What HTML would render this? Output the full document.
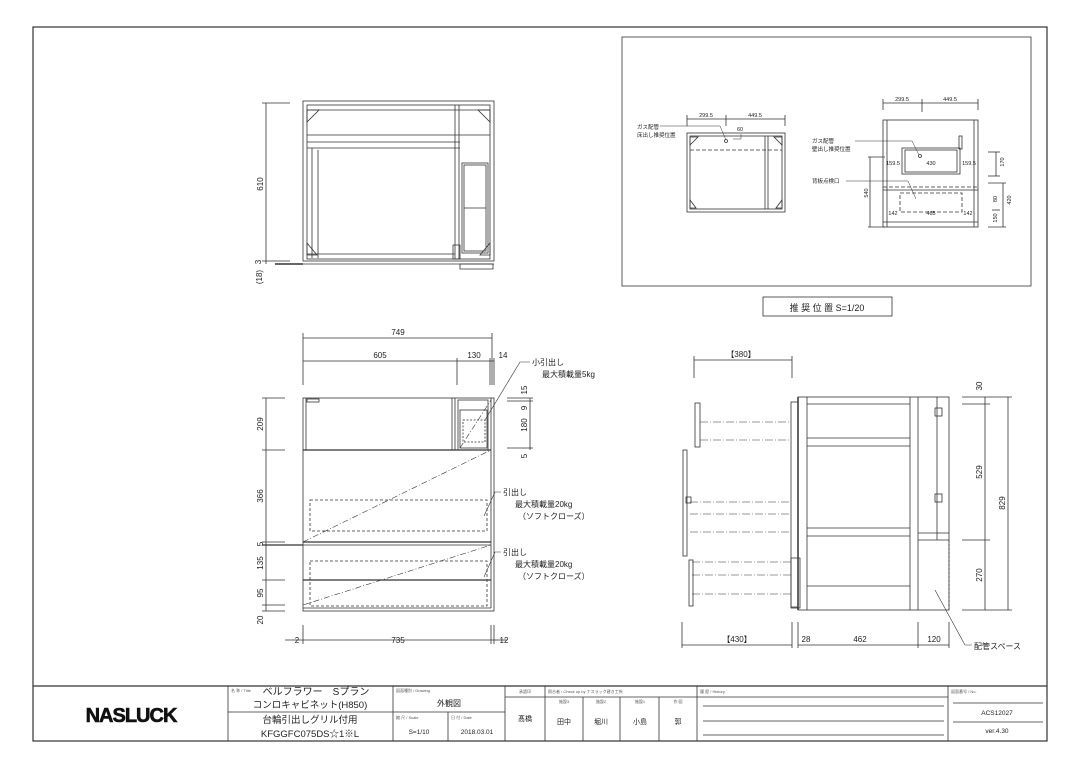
<!DOCTYPE html>
<html><head><meta charset="utf-8"><style>
html,body{margin:0;padding:0;background:#fff}
svg{display:block}
text{font-family:"Liberation Sans","Noto Sans CJK JP",sans-serif;fill:#222}
.d{font-size:8px}
.s{font-size:4px;fill:#555}
</style></head><body>
<svg width="1080" height="764" viewBox="0 0 1080 764" xmlns="http://www.w3.org/2000/svg">
<g fill="none" stroke="#333" stroke-width="0.8">
<rect x="33" y="27" width="1014" height="714" stroke-width="1.2"/>
<!-- title block -->
<line x1="33" y1="686" x2="1047" y2="686" stroke-width="1.2"/>
<line x1="228" y1="686" x2="228" y2="741"/><line x1="393" y1="686" x2="393" y2="741"/>
<line x1="505" y1="686" x2="505" y2="741"/><line x1="545" y1="686" x2="545" y2="741"/>
<line x1="697" y1="686" x2="697" y2="741"/><line x1="948" y1="686" x2="948" y2="741"/>
<line x1="228" y1="712" x2="393" y2="712"/>
<line x1="393" y1="712" x2="505" y2="712"/><line x1="448" y1="712" x2="448" y2="741"/>
<line x1="505" y1="697" x2="697" y2="697"/>
<line x1="583" y1="697" x2="583" y2="741"/><line x1="620" y1="697" x2="620" y2="741"/><line x1="659" y1="697" x2="659" y2="741"/>
<line x1="697" y1="697" x2="948" y2="697"/>
<line x1="703" y1="706" x2="944" y2="706"/><line x1="703" y1="721" x2="944" y2="721"/><line x1="703" y1="735" x2="944" y2="735"/>
<line x1="953" y1="703" x2="1043" y2="703"/><line x1="953" y1="722" x2="1043" y2="722"/>

<!-- top plan view -->
<rect x="303" y="101" width="191" height="160"/>
<rect x="307" y="105" width="183" height="154"/>
<line x1="307" y1="110" x2="490" y2="110"/>
<line x1="307" y1="135" x2="490" y2="135"/><line x1="307" y1="142" x2="460" y2="142"/>
<line x1="307" y1="148" x2="460" y2="148"/>
<line x1="312" y1="148" x2="312" y2="258"/><line x1="318" y1="150" x2="318" y2="258"/>
<line x1="455" y1="105" x2="455" y2="259"/><line x1="459" y1="105" x2="459" y2="259"/>
<line x1="307" y1="254" x2="455" y2="254"/>
<rect x="462" y="163" width="26" height="90"/><rect x="464" y="165" width="22" height="86"/>
<line x1="464" y1="208" x2="486" y2="208"/>
<rect x="453" y="245" width="7" height="14"/>
<path d="M307 110l12 0-12 12z M490 110l-12 0 12 12z M307 255l10 0-10-12z M490 255l-10 0 10-12z"/>
<line x1="303" y1="264" x2="494" y2="264"/>
<path d="M460 264h33v5h-33z"/>
<line x1="266" y1="103" x2="266" y2="264"/><line x1="262" y1="103" x2="290" y2="103"/><line x1="262" y1="261" x2="290" y2="261"/>
<line x1="275" y1="264" x2="303" y2="264" stroke-width="1.5"/>

<!-- front view -->
<rect x="303" y="398" width="191" height="213"/>
<line x1="303" y1="450" x2="491" y2="450" stroke-width="1.2"/>
<line x1="303" y1="542" x2="491" y2="542" stroke-width="1.2"/><line x1="303" y1="545" x2="491" y2="545"/>
<line x1="303" y1="580" x2="491" y2="580" stroke-width="1.2"/>
<line x1="303" y1="608" x2="491" y2="608"/>
<line x1="491" y1="398" x2="491" y2="608"/>
<line x1="306" y1="398" x2="306" y2="450"/><line x1="452" y1="398" x2="452" y2="450"/><line x1="455" y1="398" x2="455" y2="450"/>
<rect x="458" y="400" width="30" height="50"/><rect x="460" y="410" width="27" height="38"/>
<rect x="463" y="420" width="22" height="22" stroke-dasharray="2,1.5"/>
<rect x="310" y="500" width="177" height="31" stroke-dasharray="3,2"/>
<rect x="310" y="561" width="177" height="45" stroke-dasharray="3,2"/>
<g stroke-dasharray="6,2,1,2" stroke-width="0.6">
<line x1="303" y1="542" x2="491" y2="450"/><line x1="303" y1="605" x2="491" y2="545"/>
<line x1="460" y1="448" x2="491" y2="400"/></g>
<rect x="307" y="399" width="12" height="3"/>
<!-- front dims -->
<line x1="303" y1="338" x2="492" y2="338"/><line x1="303" y1="333" x2="303" y2="385"/><line x1="492" y1="333" x2="492" y2="385"/>
<line x1="303" y1="361" x2="494" y2="361"/><line x1="457" y1="358" x2="457" y2="385"/><line x1="490" y1="358" x2="490" y2="385"/><line x1="494" y1="358" x2="494" y2="385"/>
<line x1="266" y1="398" x2="266" y2="611"/>
<line x1="262" y1="398" x2="285" y2="398"/><line x1="262" y1="450" x2="285" y2="450"/><line x1="262" y1="542" x2="285" y2="542"/><line x1="262" y1="545" x2="303" y2="545" stroke-width="1.3"/><line x1="262" y1="580" x2="285" y2="580"/><line x1="262" y1="605" x2="285" y2="605"/><line x1="262" y1="611" x2="285" y2="611"/>
<line x1="530" y1="398" x2="530" y2="450"/><line x1="507" y1="398" x2="533" y2="398"/><line x1="507" y1="401" x2="533" y2="401"/><line x1="507" y1="448" x2="533" y2="448"/>
<line x1="303" y1="640" x2="494" y2="640"/><line x1="303" y1="625" x2="303" y2="644"/><line x1="491" y1="625" x2="491" y2="644"/><line x1="494" y1="625" x2="494" y2="644"/><line x1="285" y1="640" x2="303" y2="640"/><line x1="494" y1="640" x2="507" y2="640"/>
<!-- leaders -->
<polyline points="485,420 520,362 530,362" stroke-width="0.6"/>
<polyline points="484,516 495,492 501,492" stroke-width="0.6"/>
<polyline points="484,577 495,552 501,552" stroke-width="0.6"/>

<!-- side view -->
<rect x="798" y="397" width="151" height="213"/>
<line x1="798" y1="397" x2="798" y2="610" stroke-width="1.5"/>
<line x1="807" y1="397" x2="807" y2="610"/>
<line x1="910" y1="397" x2="910" y2="610"/><line x1="918" y1="397" x2="918" y2="610"/>
<line x1="807" y1="404" x2="910" y2="404"/>
<line x1="807" y1="438" x2="910" y2="438"/><line x1="807" y1="446" x2="910" y2="446"/>
<line x1="807" y1="528" x2="910" y2="528"/><line x1="807" y1="536" x2="910" y2="536"/>
<line x1="807" y1="586" x2="910" y2="586"/>
<line x1="937" y1="397" x2="937" y2="540"/><line x1="918" y1="533" x2="949" y2="533"/><line x1="918" y1="540" x2="949" y2="540"/>
<rect x="935" y="408" width="7" height="8"/><rect x="935" y="494" width="7" height="8"/>
<line x1="949" y1="540" x2="949" y2="610" stroke-dasharray="2,2"/>
<rect x="791" y="402" width="7" height="205"/>
<rect x="791" y="558" width="9" height="50"/>
<g stroke-dasharray="8,2,1,2" stroke-width="0.6">
<line x1="700" y1="422" x2="791" y2="422"/><line x1="700" y1="440" x2="791" y2="440"/>
<line x1="690" y1="502" x2="791" y2="502"/><line x1="690" y1="514" x2="791" y2="514"/><line x1="690" y1="532" x2="791" y2="532"/>
<line x1="692" y1="562" x2="791" y2="562"/><line x1="692" y1="575" x2="791" y2="575"/><line x1="692" y1="594" x2="791" y2="594"/></g>
<rect x="695" y="403" width="5" height="44"/><rect x="683" y="450" width="4" height="106"/><rect x="689" y="560" width="4" height="46"/>
<rect x="686" y="497" width="5" height="6"/>
<!-- side dims -->
<line x1="694" y1="360" x2="792" y2="360"/><line x1="694" y1="356" x2="694" y2="378"/><line x1="792" y1="356" x2="792" y2="378"/>
<line x1="682" y1="645" x2="792" y2="645"/><line x1="682" y1="622" x2="682" y2="648"/><line x1="792" y1="622" x2="792" y2="648"/>
<line x1="798" y1="645" x2="949" y2="645"/><line x1="798" y1="622" x2="798" y2="648"/><line x1="918" y1="622" x2="918" y2="648"/><line x1="949" y1="622" x2="949" y2="648"/>
<line x1="985" y1="397" x2="985" y2="610"/><line x1="1008" y1="397" x2="1008" y2="610"/>
<line x1="962" y1="397" x2="1012" y2="397"/><line x1="962" y1="404" x2="990" y2="404"/><line x1="962" y1="540" x2="990" y2="540"/><line x1="962" y1="610" x2="1012" y2="610"/>
<polyline points="935,590 965,645 972,645" stroke-width="0.6"/>

<!-- recommended box -->
<rect x="622" y="37" width="409" height="249"/>
<rect x="763" y="297" width="129" height="19"/>
<!-- sub left -->
<rect x="687" y="133" width="98" height="79"/>
<rect x="690" y="136" width="92" height="73"/>
<line x1="690" y1="150" x2="782" y2="150" stroke-dasharray="4,2"/>
<line x1="765" y1="136" x2="765" y2="209"/><line x1="768" y1="136" x2="768" y2="209"/>
<path d="M690 137l8 0-8 8z M782 137l-8 0 8 8z M690 208l6 0-6-8z M782 208l-6 0 6-8z"/>
<line x1="687" y1="119" x2="785" y2="119"/><line x1="687" y1="115" x2="687" y2="126"/><line x1="726" y1="115" x2="726" y2="126"/><line x1="785" y1="115" x2="785" y2="126"/>
<polyline points="660,126 720,126 726,140" stroke-width="0.5"/>
<circle cx="726" cy="141" r="1.5"/><polyline points="733,139 741,139 741,134" stroke-width="0.5"/>
<!-- sub right -->
<rect x="883" y="120" width="95" height="107"/>
<line x1="887" y1="120" x2="887" y2="227"/><line x1="974" y1="120" x2="974" y2="227"/>
<rect x="902" y="148" width="58" height="26"/><rect x="905" y="150" width="52" height="22"/>
<line x1="883" y1="187" x2="978" y2="187" stroke-dasharray="4,2"/><line x1="883" y1="190" x2="978" y2="190"/>
<rect x="900" y="193" width="62" height="19" stroke-dasharray="4,2"/>
<line x1="883" y1="222" x2="978" y2="222"/>
<rect x="959" y="136" width="3" height="13"/>
<line x1="883" y1="103" x2="978" y2="103"/><line x1="883" y1="99" x2="883" y2="110"/><line x1="922" y1="99" x2="922" y2="112"/><line x1="978" y1="99" x2="978" y2="110"/>
<line x1="870" y1="157" x2="870" y2="227"/><line x1="868" y1="157" x2="885" y2="157"/><line x1="868" y1="227" x2="885" y2="227"/>
<line x1="996" y1="152" x2="996" y2="176"/><line x1="988" y1="152" x2="1000" y2="152"/><line x1="988" y1="176" x2="1000" y2="176"/>
<line x1="1003" y1="183" x2="1003" y2="227"/><line x1="988" y1="183" x2="1006" y2="183"/><line x1="988" y1="227" x2="1006" y2="227"/><line x1="992" y1="210" x2="1000" y2="210"/>
<polyline points="855,141 912,141 919,155" stroke-width="0.5"/><circle cx="920" cy="156" r="1.5"/>
<polyline points="846,181 908,181 916,199" stroke-width="0.5"/>
</g>

<!-- texts -->
<g class="d">
<text x="266" y="184" transform="rotate(-90 266 184)" text-anchor="middle" dy="-3">610</text>
<text x="262" y="262" transform="rotate(-90 262 262)" text-anchor="middle" dy="-1">3</text>
<text x="262" y="277" transform="rotate(-90 262 277)" text-anchor="middle">(18)</text>
<text x="398" y="335" text-anchor="middle">749</text>
<text x="380" y="358" text-anchor="middle">605</text><text x="474" y="358" text-anchor="middle">130</text><text x="503" y="358" text-anchor="middle">14</text>
<text x="263" y="424" transform="rotate(-90 263 424)" text-anchor="middle">209</text>
<text x="263" y="496" transform="rotate(-90 263 496)" text-anchor="middle">366</text>
<text x="263" y="544" transform="rotate(-90 263 544)" text-anchor="middle">5</text>
<text x="263" y="563" transform="rotate(-90 263 563)" text-anchor="middle">135</text>
<text x="263" y="593" transform="rotate(-90 263 593)" text-anchor="middle">95</text>
<text x="263" y="620" transform="rotate(-90 263 620)" text-anchor="middle">20</text>
<text x="527" y="390" transform="rotate(-90 527 390)" text-anchor="middle">15</text>
<text x="527" y="408" transform="rotate(-90 527 408)" text-anchor="middle">9</text>
<text x="527" y="425" transform="rotate(-90 527 425)" text-anchor="middle">180</text>
<text x="527" y="456" transform="rotate(-90 527 456)" text-anchor="middle">5</text>
<text x="297" y="643" text-anchor="middle">2</text><text x="398" y="643" text-anchor="middle">735</text><text x="504" y="643" text-anchor="middle">12</text>
<text x="532" y="365">小引出し</text><text x="542" y="377">最大積載量5kg</text>
<text x="503" y="495">引出し</text><text x="515" y="507">最大積載量20kg</text><text x="518" y="519">（ソフトクローズ）</text>
<text x="503" y="555">引出し</text><text x="515" y="567">最大積載量20kg</text><text x="518" y="579">（ソフトクローズ）</text>
<text x="741" y="357" text-anchor="middle">【380】</text>
<text x="737" y="642" text-anchor="middle">【430】</text>
<text x="806" y="642" text-anchor="middle">28</text><text x="860" y="642" text-anchor="middle">462</text><text x="934" y="642" text-anchor="middle">120</text>
<text x="982" y="386" transform="rotate(-90 982 386)" text-anchor="middle">30</text>
<text x="982" y="472" transform="rotate(-90 982 472)" text-anchor="middle">529</text>
<text x="982" y="575" transform="rotate(-90 982 575)" text-anchor="middle">270</text>
<text x="1005" y="503" transform="rotate(-90 1005 503)" text-anchor="middle">829</text>
<text x="974" y="649">配管スペース</text>
<text x="827" y="311" text-anchor="middle" style="font-size:9px">推 奨 位 置 S=1/20</text>
</g>
<g style="font-size:5.5px">
<text x="706" y="117" text-anchor="middle">299.5</text><text x="755" y="117" text-anchor="middle">449.5</text>
<text x="737" y="131">60</text>
<text x="637" y="129">ガス配管</text><text x="637" y="137">床出し推奨位置</text>
<text x="902" y="101" text-anchor="middle">299.5</text><text x="950" y="101" text-anchor="middle">449.5</text>
<text x="812" y="143">ガス配管</text><text x="812" y="151">壁出し推奨位置</text>
<text x="812" y="183">背板点検口</text>
<text x="893" y="165" text-anchor="middle">159.5</text><text x="931" y="165" text-anchor="middle">430</text><text x="969" y="165" text-anchor="middle">159.5</text>
<text x="893" y="215" text-anchor="middle">142</text><text x="931" y="215" text-anchor="middle">465</text><text x="968" y="215" text-anchor="middle">142</text>
<text x="868" y="193" transform="rotate(-90 868 193)" text-anchor="middle">540</text>
<text x="1004" y="162" transform="rotate(-90 1004 162)" text-anchor="middle">170</text>
<text x="1011" y="200" transform="rotate(-90 1011 200)" text-anchor="middle">420</text>
<text x="997" y="199" transform="rotate(-90 997 199)" text-anchor="middle">80</text>
<text x="997" y="218" transform="rotate(-90 997 218)" text-anchor="middle">150</text>
</g>
<!-- title block text -->
<text x="131" y="722" text-anchor="middle" style="font-size:20px;font-weight:bold;letter-spacing:-1px;fill:#111" stroke="#111" stroke-width="0.6">NASLUCK</text>
<text class="s" x="231" y="692">名 称 / Title</text>
<text x="316" y="695" text-anchor="middle" style="font-size:10px">ベルフラワー　Sプラン</text>
<text x="310" y="708" text-anchor="middle" style="font-size:9.5px">コンロキャビネット(H850)</text>
<text x="310" y="723" text-anchor="middle" style="font-size:9.5px">台輪引出しグリル付用</text>
<text x="310" y="737" text-anchor="middle" style="font-size:9.5px">KFGGFC075DS☆1※L</text>
<text class="s" x="396" y="692">図面種別 / Drawing</text>
<text x="449" y="706" text-anchor="middle" style="font-size:8px">外観図</text>
<text class="s" x="396" y="719">縮 尺 / Scale</text><text class="s" x="451" y="719">日 付 / Date</text>
<text x="419" y="734" text-anchor="middle" style="font-size:6.5px">S=1/10</text><text x="477" y="734" text-anchor="middle" style="font-size:6.5px">2018.03.01</text>
<text class="s" x="525" y="693" text-anchor="middle">承認印</text>
<text x="525" y="721" text-anchor="middle" style="font-size:7px">髙橋</text>
<text class="s" x="548" y="693">照合者 / Check up by ナスラック建き工係</text>
<text class="s" x="564" y="703" text-anchor="middle">施設3</text><text class="s" x="601" y="703" text-anchor="middle">施設2</text><text class="s" x="640" y="703" text-anchor="middle">施設1</text><text class="s" x="678" y="703" text-anchor="middle">作 図</text>
<text x="564" y="724" text-anchor="middle" style="font-size:7px">田中</text><text x="601" y="724" text-anchor="middle" style="font-size:7px">堀川</text><text x="640" y="724" text-anchor="middle" style="font-size:7px">小島</text><text x="678" y="724" text-anchor="middle" style="font-size:7px">郭</text>
<text class="s" x="700" y="693">履 歴 / History</text>
<text class="s" x="951" y="693">図面番号 / No.</text>
<text x="997" y="715" text-anchor="middle" style="font-size:6.5px">ACS12027</text>
<text x="997" y="733" text-anchor="middle" style="font-size:6.5px">ver.4.30</text>
</svg>
</body></html>
